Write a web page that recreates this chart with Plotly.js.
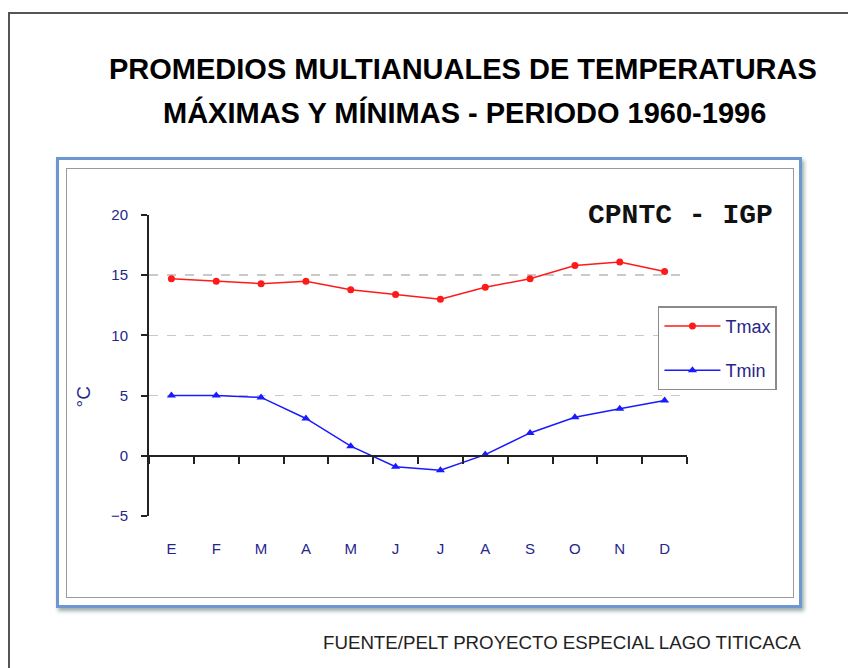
<!DOCTYPE html>
<html>
<head>
<meta charset="utf-8">
<script src="https://cdn.plot.ly/plotly-3.0.1.min.js"></script>
<style>
  html, body { margin:0; padding:0; background:#fff; }
  #wrap { position:relative; width:848px; height:668px; overflow:hidden; }
  .outer { position:absolute; left:8px; top:12px; width:860px; height:700px; border-left:2px solid #555; border-top:2px solid #555; }
  .blue { position:absolute; left:56px; top:157px; width:740px; height:445px; border:3px solid #6d98cf; box-shadow:2px 3px 4px #9aa; background:#fff; }
  .gray { position:absolute; left:66px; top:168px; width:726px; height:428px; border:1px solid #9a9a9a; background:#fff; }
  #chart { position:absolute; left:0; top:0; width:848px; height:668px; }
</style>
</head>
<body>
<div id="wrap">
  <div class="outer"></div>
  <div class="blue"></div>
  <div class="gray"></div>
  <div id="chart"></div>
</div>
<script>
const months = ["E","F","M","A","M ","J","J ","A ","S","O","N","D"];
const monthLabels = ["E","F","M","A","M","J","J","A","S","O","N","D"];
const tmax = [14.7, 14.5, 14.3, 14.5, 13.8, 13.4, 13.0, 14.0, 14.7, 15.8, 16.1, 15.3];
const tmin = [5.0, 5.0, 4.85, 3.1, 0.8, -0.9, -1.2, 0.1, 1.9, 3.2, 3.9, 4.6];
const yTicks = [-5, 0, 5, 10, 15, 20];
const gridVals = [5, 10, 15];

const navy = "#26268a";
const traces = [
  {x: months, y: tmax, name: "Tmax", mode: "lines+markers", type: "scatter",
   line: {color: "#ff1a1a", width: 1.5}, marker: {symbol: "circle", size: 7, color: "#ff1a1a"},
   legendgroup: "a", hoverinfo: "skip"},
  {x: months, y: tmin, name: "Tmin", mode: "lines+markers", type: "scatter",
   line: {color: "#1a1aff", width: 1.5}, marker: {symbol: "triangle-up", size: 8, color: "#1a1aff"},
   legendgroup: "b", hoverinfo: "skip"},
  {x: months, y: tmax, xaxis: "x2", yaxis: "y2", mode: "lines", opacity: 0,
   showlegend: false, hoverinfo: "skip", line: {width: 0}}
];

const layout = {
  width: 848, height: 668,
  margin: {l: 149, r: 161, t: 215, b: 152},
  paper_bgcolor: "rgba(0,0,0,0)", plot_bgcolor: "rgba(0,0,0,0)",
  font: {family: "Liberation Sans, Arial, sans-serif", color: navy},
  showlegend: true,
  legend: {x: 0.946, y: 0.697, xanchor: "left", yanchor: "top",
           bgcolor: "#fff", bordercolor: "#8a8a8a", borderwidth: 1.5,
           font: {size: 18, color: navy}, itemwidth: 56,
           traceorder: "grouped", tracegroupgap: 18},
  xaxis: {type: "category", categoryorder: "array", categoryarray: months,
          range: [-0.5, 11.5], showline: false, showgrid: false, zeroline: false,
          ticks: "", tickvals: months, ticktext: monthLabels, ticklabelstandoff: 22,
          tickfont: {size: 15, color: navy}},
  xaxis2: {type: "category", categoryorder: "array", categoryarray: months,
           overlaying: "x", anchor: "free", position: 0.2, side: "bottom",
           range: [-0.5, 11.5], showline: true, linecolor: "#222", linewidth: 2,
           ticks: "outside", tickson: "boundaries", ticklen: 7, tickwidth: 2, tickcolor: "#222",
           showticklabels: false, showgrid: false, zeroline: false},
  yaxis: {range: [-5, 20], tickvals: yTicks, showgrid: false, zeroline: false,
          showline: true, linecolor: "#222", linewidth: 2,
          ticks: "outside", ticklen: 6, tickwidth: 2, tickcolor: "#222",
          ticklabelstandoff: 10, tickfont: {size: 15, color: navy}},
  yaxis2: {range: [-5, 20], overlaying: "y", anchor: "x", tickvals: gridVals,
           showgrid: true, griddash: "dash", gridcolor: "#c9c9c9", gridwidth: 1.5,
           showticklabels: false, showline: false, zeroline: false, ticks: ""},
  annotations: [
    {xref: "paper", yref: "paper", x: 0.584, y: 1.485, xanchor: "center", yanchor: "middle",
     text: "<b>PROMEDIOS MULTIANUALES DE TEMPERATURAS</b>", showarrow: false,
     font: {size: 29, color: "#000", family: "Liberation Sans, Arial, sans-serif"}},
    {xref: "paper", yref: "paper", x: 0.587, y: 1.34, xanchor: "center", yanchor: "middle",
     text: "<b>MÁXIMAS Y MÍNIMAS - PERIODO 1960-1996</b>", showarrow: false,
     font: {size: 29, color: "#000", family: "Liberation Sans, Arial, sans-serif"}},
    {xref: "paper", yref: "paper", x: 0.987, y: 1.0, xanchor: "center", yanchor: "middle",
     text: "<b>CPNTC - IGP</b>", showarrow: false,
     font: {size: 28, color: "#111", family: "Liberation Mono, Courier New, monospace"}},
    {xref: "paper", yref: "paper", x: -0.122, y: 0.395, xanchor: "center", yanchor: "middle",
     text: "°C", textangle: -90, showarrow: false,
     font: {size: 19, color: navy, family: "Liberation Sans, Arial, sans-serif"}},
    {xref: "paper", yref: "paper", x: 0.768, y: -0.42, xanchor: "center", yanchor: "middle",
     text: "FUENTE/PELT PROYECTO ESPECIAL LAGO TITICACA", showarrow: false,
     font: {size: 18.7, color: "#222", family: "Liberation Sans, Arial, sans-serif"}}
  ]
};

Plotly.newPlot("chart", traces, layout, {displayModeBar: false, staticPlot: true});
</script>
</body>
</html>
